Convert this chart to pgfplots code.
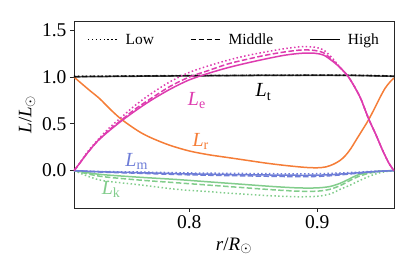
\documentclass[border=0pt]{standalone}
\usepackage{pgfplots}
\pgfplotsset{compat=1.18}
\usepackage{fontspec}
\setmainfont{Liberation Serif}
\definecolor{cmag}{RGB}{222,60,175}
\definecolor{corg}{RGB}{245,125,55}
\definecolor{cblu}{RGB}{110,125,215}
\definecolor{cgrn}{RGB}{130,205,140}
\newcommand{\Lsub}[1]{\textit{L}\textsubscript{#1}}
\begin{document}
\begin{tikzpicture}
\begin{axis}[
  name=ax,
  scale only axis, width=320pt, height=187pt,
  xmin=0.71, xmax=0.96, ymin=-0.4, ymax=1.6,
  xtick={0.8,0.9}, ytick={0,0.5,1.0,1.5},
  xticklabel style={/pgf/number format/.cd,fixed,precision=1,fixed zerofill},
  yticklabel style={/pgf/number format/.cd,fixed,precision=1,fixed zerofill},
  /pgf/number format/assume math mode=true,
  tick label style={font=\fontsize{19.5}{21}\selectfont},
  tick align=outside, tick pos=left, major tick length=4pt,
  axis line style={black!85, line width=0.8pt},
  every tick/.style={black!85, line width=0.8pt},
  xlabel={\textit{r}/\textit{R}\textsubscript{$\odot$}},
  ylabel={\textit{L}/\textit{L}\textsubscript{$\odot$}},
  label style={font=\fontsize{19}{21}\selectfont},
  xlabel style={yshift=-2pt},
  ylabel style={yshift=0pt},
  legend columns=3,
  legend style={at={(0.5,0.955)}, anchor=north, draw=none, fill=none,
    font=\fontsize{15.5}{17}\selectfont,
    /tikz/every odd column/.append style={column sep=5pt},
    /tikz/every even column/.append style={column sep=34pt}},
  legend image code/.code={\draw[#1] (0pt,0pt) -- (30pt,0pt);},
  every axis plot/.append style={line width=1.5pt},
]
\addlegendimage{black, line width=1.5pt, dash pattern=on 1.5pt off 2.4pt}
\addlegendentry{Low}
\addlegendimage{black, line width=1.5pt, dash pattern=on 5.5pt off 2.4pt}
\addlegendentry{Middle}
\addlegendimage{black, line width=1.5pt}
\addlegendentry{High}

% L_k (green)
\addplot[forget plot, cgrn, smooth, dash pattern=on 1.5pt off 2.4pt] coordinates {
(0.71,0) (0.73,-0.10) (0.76,-0.15) (0.79,-0.20) (0.815,-0.225) (0.84,-0.25) (0.865,-0.27) (0.885,-0.28) (0.90,-0.275) (0.91,-0.25) (0.918,-0.20) (0.925,-0.16) (0.931,-0.12) (0.94,-0.065) (0.947,-0.03) (0.955,-0.008) (0.96,0)};
\addplot[forget plot, cgrn, smooth, dash pattern=on 5.5pt off 2.4pt] coordinates {
(0.71,0) (0.73,-0.06) (0.76,-0.10) (0.79,-0.13) (0.815,-0.155) (0.84,-0.18) (0.865,-0.205) (0.885,-0.22) (0.90,-0.22) (0.91,-0.20) (0.918,-0.16) (0.925,-0.11) (0.931,-0.07) (0.94,-0.03) (0.95,-0.008) (0.96,0)};
\addplot[forget plot, cgrn, smooth] coordinates {
(0.71,0) (0.73,-0.04) (0.76,-0.07) (0.79,-0.095) (0.815,-0.12) (0.84,-0.145) (0.865,-0.17) (0.885,-0.185) (0.90,-0.185) (0.91,-0.17) (0.918,-0.135) (0.925,-0.09) (0.931,-0.05) (0.94,-0.02) (0.95,-0.005) (0.96,0)};

% L_m (blue)
\addplot[forget plot, cblu, smooth, dash pattern=on 1.5pt off 2.4pt] coordinates {
(0.71,0) (0.73,-0.01) (0.76,-0.015) (0.80,-0.025) (0.85,-0.032) (0.89,-0.035) (0.91,-0.03) (0.93,-0.018) (0.945,-0.007) (0.96,0)};
\addplot[forget plot, cblu, smooth, dash pattern=on 5.5pt off 2.4pt] coordinates {
(0.71,0) (0.73,-0.015) (0.76,-0.028) (0.80,-0.045) (0.85,-0.058) (0.89,-0.065) (0.91,-0.055) (0.93,-0.03) (0.945,-0.012) (0.96,0)};
\addplot[forget plot, cblu, smooth] coordinates {
(0.71,0) (0.73,-0.012) (0.76,-0.022) (0.80,-0.035) (0.85,-0.045) (0.89,-0.05) (0.91,-0.044) (0.93,-0.025) (0.945,-0.01) (0.96,0)};

% L_r (orange)
\addplot[forget plot, corg, smooth] coordinates {
(0.710,1.00) (0.716,0.93) (0.722,0.86) (0.730,0.77) (0.738,0.66) (0.746,0.56) (0.755,0.47) (0.763,0.40) (0.772,0.34) (0.785,0.27) (0.800,0.21) (0.815,0.17) (0.830,0.14) (0.845,0.11) (0.860,0.08) (0.875,0.055) (0.890,0.035) (0.900,0.03) (0.907,0.04) (0.913,0.07) (0.918,0.11) (0.922,0.16) (0.926,0.23) (0.931,0.34) (0.936,0.45) (0.940,0.54) (0.945,0.67) (0.949,0.78) (0.953,0.88) (0.957,0.95) (0.960,0.99)};

% L_t (black)
\addplot[forget plot, black, opacity=0.7, smooth, dash pattern=on 1.5pt off 2.4pt] coordinates {
(0.71,1.01) (0.75,1.012) (0.80,1.017) (0.85,1.02) (0.90,1.022) (0.93,1.02) (0.96,1.012)};
\addplot[forget plot, black, opacity=0.7, smooth, dash pattern=on 5.5pt off 2.4pt] coordinates {
(0.71,1.005) (0.75,1.01) (0.80,1.015) (0.85,1.018) (0.90,1.02) (0.93,1.018) (0.96,1.01)};
\addplot[forget plot, black, opacity=0.7, smooth] coordinates {
(0.71,1.003) (0.75,1.008) (0.80,1.013) (0.85,1.017) (0.90,1.018) (0.93,1.017) (0.96,1.008)};

% L_e (magenta)
\addplot[forget plot, cmag, smooth, dash pattern=on 1.5pt off 2.4pt] coordinates {
(0.710,0.00) (0.714,0.07) (0.720,0.19) (0.728,0.32) (0.737,0.45) (0.747,0.57) (0.758,0.70) (0.770,0.82) (0.785,0.95) (0.800,1.05) (0.815,1.12) (0.830,1.18) (0.845,1.23) (0.860,1.27) (0.875,1.305) (0.888,1.325) (0.898,1.32) (0.905,1.29) (0.912,1.20) (0.918,1.10) (0.924,1.01) (0.929,0.90) (0.934,0.77) (0.940,0.56) (0.946,0.38) (0.951,0.22) (0.956,0.08) (0.960,0.00)};
\addplot[forget plot, cmag, smooth, dash pattern=on 5.5pt off 2.4pt] coordinates {
(0.710,0.00) (0.714,0.07) (0.720,0.18) (0.728,0.31) (0.737,0.43) (0.747,0.54) (0.758,0.66) (0.770,0.77) (0.785,0.90) (0.800,1.00) (0.815,1.07) (0.830,1.14) (0.845,1.19) (0.860,1.235) (0.875,1.27) (0.888,1.29) (0.898,1.285) (0.905,1.26) (0.912,1.18) (0.918,1.10) (0.924,1.01) (0.929,0.90) (0.934,0.77) (0.940,0.56) (0.946,0.38) (0.951,0.22) (0.956,0.08) (0.960,0.00)};
\addplot[forget plot, cmag, smooth] coordinates {
(0.710,0.00) (0.714,0.07) (0.720,0.18) (0.728,0.31) (0.737,0.42) (0.747,0.53) (0.758,0.64) (0.770,0.75) (0.785,0.87) (0.800,0.97) (0.815,1.04) (0.830,1.10) (0.845,1.15) (0.860,1.195) (0.875,1.235) (0.888,1.255) (0.898,1.255) (0.905,1.235) (0.912,1.17) (0.918,1.10) (0.924,1.01) (0.929,0.90) (0.934,0.77) (0.940,0.56) (0.946,0.38) (0.951,0.22) (0.956,0.08) (0.960,0.00)};

\node[cmag, font=\fontsize{20}{22}\selectfont] at (axis cs:0.806,0.75) {\Lsub{e}};
\node[black, font=\fontsize{20}{22}\selectfont] at (axis cs:0.858,0.84) {\Lsub{t}};
\node[corg, font=\fontsize{20}{22}\selectfont] at (axis cs:0.809,0.31) {\Lsub{r}};
\node[cblu, font=\fontsize{20}{22}\selectfont] at (axis cs:0.759,0.10) {\Lsub{m}};
\node[cgrn, font=\fontsize{20}{22}\selectfont] at (axis cs:0.739,-0.20) {\Lsub{k}};
\end{axis}
\pgfresetboundingbox
\path[use as bounding box] ([shift={(-74pt,-69pt)}]ax.south west) rectangle ([shift={(21pt,21pt)}]ax.north east);
\end{tikzpicture}
\end{document}
